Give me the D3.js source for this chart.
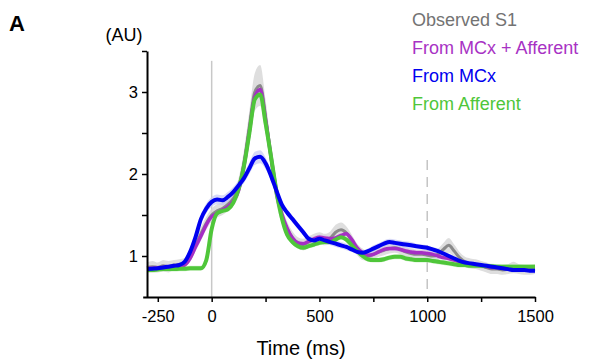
<!DOCTYPE html>
<html>
<head>
<meta charset="utf-8">
<script src="https://cdn.jsdelivr.net/npm/d3@7"></script>
<style>
  body { margin: 0; background: #fff; }
  text { font-family: Arial, "Liberation Sans", sans-serif; }
</style>
</head>
<body>
<svg id="chart"></svg>
<script>
// time points, -300 .. 1500 ms every 25 ms
const times = d3.range(-300, 1501, 25);

const observed = [0.86, 0.87, 0.86, 0.88, 0.87, 0.89, 0.89, 0.92, 1.00, 1.13, 1.27, 1.40,
  1.50, 1.55, 1.58, 1.63, 1.70, 1.84, 2.14, 2.58, 3.00, 3.08, 2.70, 2.20, 1.75, 1.50, 1.33,
  1.22, 1.16, 1.14, 1.17, 1.20, 1.22, 1.20, 1.22, 1.29, 1.32, 1.28, 1.18, 1.08, 1.02, 1.00,
  1.02, 1.05, 1.07, 1.09, 1.10, 1.08, 1.05, 1.03, 1.02, 1.02, 1.01, 1.00, 1.02, 1.08, 1.13,
  1.06, 0.98, 0.93, 0.91, 0.90, 0.88, 0.86, 0.84, 0.84, 0.83, 0.84, 0.86, 0.84, 0.83, 0.83, 0.84];
const observedErr = [0.06, 0.07, 0.06, 0.07, 0.07, 0.06, 0.07, 0.06, 0.07, 0.07, 0.08, 0.08,
  0.08, 0.08, 0.08, 0.08, 0.09, 0.11, 0.15, 0.19, 0.23, 0.25, 0.21, 0.15, 0.11, 0.10, 0.09,
  0.08, 0.07, 0.07, 0.07, 0.07, 0.07, 0.07, 0.08, 0.09, 0.09, 0.08, 0.08, 0.07, 0.07, 0.06,
  0.06, 0.06, 0.06, 0.06, 0.06, 0.06, 0.06, 0.06, 0.06, 0.06, 0.06, 0.06, 0.07, 0.08, 0.09,
  0.08, 0.07, 0.06, 0.06, 0.06, 0.06, 0.06, 0.06, 0.06, 0.06, 0.06, 0.07, 0.06, 0.06, 0.06, 0.06];

const mcxAff = [0.85, 0.85, 0.855, 0.86, 0.865, 0.87, 0.87, 0.89, 0.97, 1.11, 1.24, 1.38,
  1.48, 1.52, 1.56, 1.60, 1.67, 1.80, 2.10, 2.52, 2.94, 3.03, 2.66, 2.22, 1.80, 1.52, 1.34,
  1.22, 1.16, 1.15, 1.18, 1.21, 1.23, 1.22, 1.21, 1.22, 1.25, 1.27, 1.20, 1.10, 1.04, 1.01,
  1.02, 1.05, 1.08, 1.09, 1.09, 1.08, 1.06, 1.05, 1.04, 1.04, 1.03, 1.02, 1.00, 0.98, 0.97,
  0.95, 0.93, 0.91, 0.90, 0.89, 0.88, 0.87, 0.86, 0.86, 0.85, 0.85, 0.84, 0.84, 0.84, 0.84, 0.84];

const mcx = [0.84, 0.845, 0.85, 0.86, 0.87, 0.88, 0.89, 0.93, 1.05, 1.23, 1.45, 1.58,
  1.66, 1.69, 1.68, 1.72, 1.78, 1.86, 1.95, 2.07, 2.19, 2.21, 2.13, 1.98, 1.80, 1.63, 1.53,
  1.45, 1.37, 1.29, 1.21, 1.19, 1.21, 1.19, 1.17, 1.15, 1.13, 1.11, 1.08, 1.05, 1.04, 1.06,
  1.09, 1.12, 1.15, 1.17, 1.16, 1.15, 1.14, 1.13, 1.12, 1.11, 1.10, 1.08, 1.06, 1.03, 1.00,
  0.97, 0.94, 0.92, 0.91, 0.90, 0.89, 0.88, 0.87, 0.86, 0.85, 0.84, 0.83, 0.83, 0.83, 0.82, 0.82];
const mcxErr = [0.03, 0.03, 0.03, 0.03, 0.03, 0.03, 0.03, 0.03, 0.04, 0.05, 0.05, 0.06,
  0.06, 0.06, 0.06, 0.06, 0.06, 0.06, 0.06, 0.07, 0.08, 0.08, 0.07, 0.06, 0.05, 0.04, 0.04,
  0.04, 0.04, 0.04, 0.04, 0.04, 0.05, 0.04, 0.04, 0.04, 0.04, 0.04, 0.03, 0.03, 0.03, 0.03,
  0.04, 0.04, 0.04, 0.04, 0.04, 0.04, 0.04, 0.04, 0.03, 0.03, 0.03, 0.03, 0.03, 0.03, 0.03,
  0.03, 0.03, 0.03, 0.03, 0.03, 0.03, 0.03, 0.03, 0.03, 0.03, 0.03, 0.03, 0.03, 0.03, 0.03, 0.03];

const afferent = [0.83, 0.83, 0.835, 0.84, 0.84, 0.84, 0.845, 0.845, 0.85, 0.85, 0.85, 0.95,
  1.33, 1.52, 1.55, 1.57, 1.65, 1.82, 2.10, 2.50, 2.91, 2.97, 2.62, 2.22, 1.80, 1.47, 1.26,
  1.17, 1.12, 1.10, 1.12, 1.14, 1.16, 1.17, 1.17, 1.20, 1.23, 1.20, 1.13, 1.06, 1.00, 0.96,
  0.95, 0.95, 0.96, 0.98, 0.99, 0.99, 0.97, 0.96, 0.95, 0.95, 0.95, 0.94, 0.93, 0.92, 0.91,
  0.90, 0.89, 0.89, 0.88, 0.88, 0.88, 0.875, 0.875, 0.87, 0.87, 0.87, 0.87, 0.87, 0.87, 0.87, 0.87];

const modelErr = 0.03;

const legendLabels = ["Observed S1", "From MCx + Afferent", "From MCx", "From Afferent"];
const xTicks = [-250, 0, 250, 500, 750, 1000, 1250, 1500];
const xTickLabels = [-250, 0, 500, 1000, 1500];
const yTicks = [1, 1.5, 2, 2.5, 3, 3.5];
const yTickLabels = [1, 2, 3];

const width = 590, height = 363;
const svg = d3.select("#chart").attr("width", width).attr("height", height);

const x = d3.scaleLinear().domain([-320, 1500]).range([142.7, 535]);
const y = d3.scaleLinear().domain([0.5, 3.5]).range([297, 51]);

const series = [
  { name: legendLabels[0], values: observed, err: observedErr, line: "#8a8a8a", band: "#d6d6d6", bandOp: 0.8, w: 3, text: "#737373" },
  { name: legendLabels[1], values: mcxAff, err: mcxAff.map(() => modelErr), line: "#a52fc4", band: "#d9a6e6", bandOp: 0.6, w: 3.5, text: "#a832c4" },
  { name: legendLabels[2], values: mcx, err: mcxErr, line: "#0000f0", band: "#c4c8f4", bandOp: 0.7, w: 4, text: "#0000ee" },
  { name: legendLabels[3], values: afferent, err: afferent.map(() => modelErr), line: "#4fc63a", band: "#b5e8aa", bandOp: 0.6, w: 4, text: "#4fc63a" }
];

// reference lines at stimulus onset and 1000 ms
svg.append("line")
  .attr("x1", x(0)).attr("x2", x(0))
  .attr("y1", y(3.38)).attr("y2", y(0.5))
  .attr("stroke", "#c8c8c8").attr("stroke-width", 1.5);
svg.append("line")
  .attr("x1", x(1000)).attr("x2", x(1000))
  .attr("y1", y(2.17)).attr("y2", y(0.5))
  .attr("stroke", "#c4c4c4").attr("stroke-width", 1.5)
  .attr("stroke-dasharray", "10,7");

const area = d3.area()
  .x((d, i) => x(times[i]))
  .y0(d => y(d[0] - d[1]))
  .y1(d => y(d[0] + d[1]))
  .curve(d3.curveMonotoneX);
const line = d3.line()
  .x((d, i) => x(times[i]))
  .y(d => y(d))
  .curve(d3.curveMonotoneX);

// bands first
const bandOrder = [0, 2, 1, 3];
bandOrder.forEach(k => {
  const s = series[k];
  svg.append("path")
    .datum(s.values.map((v, i) => [v, s.err[i]]))
    .attr("d", area)
    .attr("fill", s.band)
    .attr("fill-opacity", s.bandOp);
});

// lines: observed, mcx+aff, afferent, mcx on top
const lineOrder = [0, 1, 3, 2];
lineOrder.forEach(k => {
  const s = series[k];
  svg.append("path")
    .datum(s.values)
    .attr("d", line)
    .attr("fill", "none")
    .attr("stroke", s.line)
    .attr("stroke-width", s.w)
    .attr("stroke-linejoin", "round");
});

// axes
const xAxis = svg.append("g")
  .attr("transform", `translate(0,${y(0.5)})`)
  .call(d3.axisBottom(x).tickValues(xTicks).tickSize(5).tickSizeOuter(0)
    .tickFormat(d => xTickLabels.includes(d) ? d : ""));
const yAxis = svg.append("g")
  .attr("transform", `translate(${x(-300)},0)`)
  .call(d3.axisLeft(y).tickValues(yTicks).tickSize(5).tickSizeOuter(0)
    .tickFormat(d => yTickLabels.includes(d) ? d : ""));

[xAxis, yAxis].forEach(g => {
  g.select(".domain").attr("stroke", "#000").attr("stroke-width", 2);
  g.selectAll(".tick line").attr("stroke", "#000").attr("stroke-width", 1.5);
  g.selectAll(".tick text")
    .attr("fill", "#000")
    .style("font-size", "16.5px")
    .style("font-family", "Arial, 'Liberation Sans', sans-serif");
});
xAxis.selectAll(".tick text").attr("dy", "1.05em").attr("y", 8);
yAxis.selectAll(".tick text").attr("x", -9).attr("dy", "0.35em");

svg.append("text")
  .attr("x", 301).attr("y", 355)
  .attr("text-anchor", "middle")
  .style("font-size", "20px")
  .text("Time (ms)");

svg.append("text")
  .attr("x", 124).attr("y", 41)
  .attr("text-anchor", "middle")
  .style("font-size", "18px")
  .text("(AU)");

svg.append("text")
  .attr("x", 9).attr("y", 31)
  .style("font-size", "22px")
  .style("font-weight", "bold")
  .text("A");

// legend
svg.selectAll(".legend")
  .data(series)
  .enter()
  .append("text")
  .attr("class", "legend")
  .attr("x", 412)
  .attr("y", (d, i) => 26 + i * 28)
  .attr("fill", d => d.text)
  .style("font-size", "18px")
  .text(d => d.name);
</script>
</body>
</html>
